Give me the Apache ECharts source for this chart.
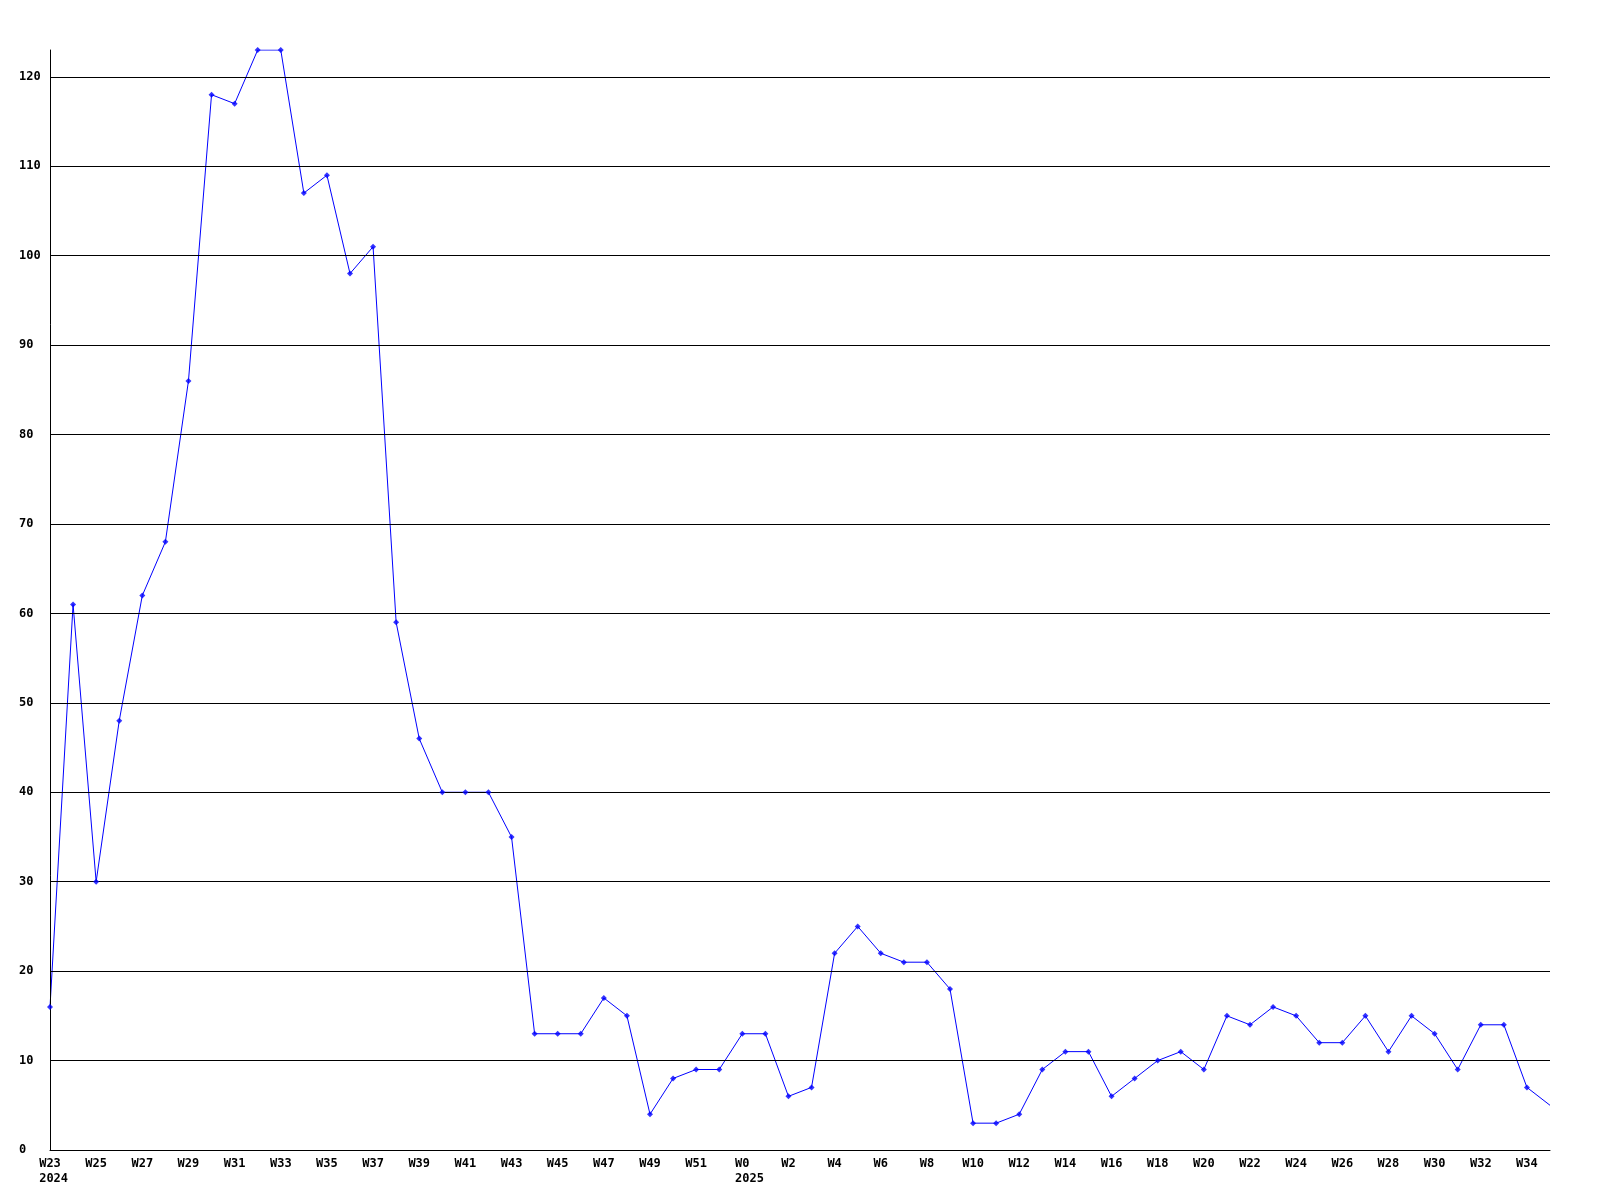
<!DOCTYPE html>
<html>
<head>
<meta charset="utf-8">
<script src="https://cdn.jsdelivr.net/npm/echarts@6/dist/echarts.min.js"></script>
<style>html,body{margin:0;padding:0;background:#fff}#c{width:1600px;height:1200px}</style>
</head>
<body>
<div id="c"></div>
<script>
const weeks2024 = ['W23','W24','W25','W26','W27','W28','W29','W30','W31','W32','W33','W34','W35','W36','W37','W38','W39','W40','W41','W42','W43','W44','W45','W46','W47','W48','W49','W50','W51','W52'];
const weeks2025 = ['W0','W1','W2','W3','W4','W5','W6','W7','W8','W9','W10','W11','W12','W13','W14','W15','W16','W17','W18','W19','W20','W21','W22','W23','W24','W25','W26','W27','W28','W29','W30','W31','W32','W33','W34','W35'];
const values2024 = [16,61,30,48,62,68,86,118,117,123,123,107,109,98,101,59,46,40,40,40,35,13,13,13,17,15,4,8,9,9];
const values2025 = [13,13,6,7,22,25,22,21,21,18,3,3,4,9,11,11,6,8,10,11,9,15,14,16,15,12,12,15,11,15,13,9,14,14,7,5];
const yearStarts = { 0: '2024', 30: '2025' };

const categories = weeks2024.concat(weeks2025);
const values = values2024.concat(values2025);

const chart = echarts.init(document.getElementById('c'));
const font = { fontFamily: 'DejaVu Sans Mono', fontWeight: 'bold', fontSize: 12, color: '#000' };
chart.setOption({
  animation: false,
  backgroundColor: '#fff',
  grid: { left: 50, right: 50, top: 50, bottom: 50, containLabel: false },
  xAxis: {
    type: 'category',
    data: categories,
    boundaryGap: false,
    axisLine: { lineStyle: { color: '#000', width: 1 } },
    axisTick: { show: false },
    splitLine: { show: false },
    axisLabel: Object.assign({}, font, {
      interval: 1,
      margin: 6,
      formatter: function (v, i) {
        const y = yearStarts[i];
        if (y) {
          // year line starts at the same left edge as the week label
          const lead = ' '.repeat(Math.max(0, 2 * v.length + 0 - y.length) ) ;
          const shift = y.length - v.length; // extra chars to the right
          const pad = ' '.repeat(Math.max(0, shift));
          return v + '\n' + pad + y;
        }
        return v;
      },
      lineHeight: 15
    })
  },
  yAxis: {
    type: 'value',
    min: 0,
    max: 123,
    interval: 10,
    z: 3,
    axisLine: { show: true, lineStyle: { color: '#000', width: 1 } },
    axisTick: { show: false },
    splitLine: { show: true, showMaxLine: false, lineStyle: { color: '#000', width: 1 } },
    axisLabel: Object.assign({}, font, { align: 'left', margin: 31, showMaxLabel: false })
  },
  series: [
    {
      type: 'line',
      data: values,
      showSymbol: false,
      lineStyle: { color: '#0000ff', width: 1 },
      itemStyle: { color: '#0000ff' },
      z: 2
    },
    {
      type: 'scatter',
      data: values.map(function (v, i) { return i === values.length - 1 ? '-' : v; }),
      symbol: 'diamond',
      symbolSize: 6,
      itemStyle: { color: '#0000ff' },
      z: 5
    }
  ]
});
</script>
</body>
</html>
